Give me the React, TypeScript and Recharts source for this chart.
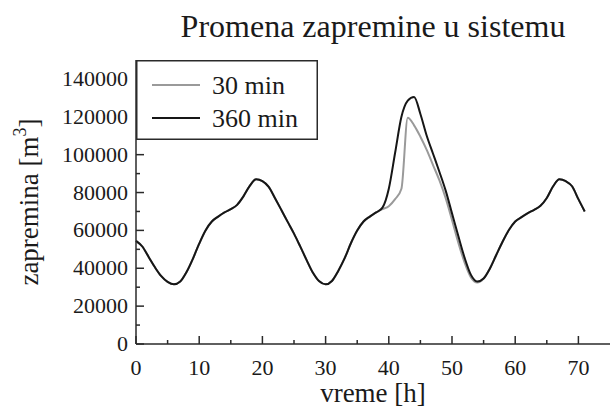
import { LineChart, Line, XAxis, YAxis, Legend } from 'recharts';

// vreme [h]
const HOURS = [
  0, 1, 2, 3, 4, 5, 6, 7, 8, 9, 10, 11, 12, 13, 14, 15, 16, 17, 18, 19, 20, 21, 22, 23,
  24, 25, 26, 27, 28, 29, 30, 31, 32, 33, 34, 35, 36, 37, 38, 39, 40, 41, 42, 43, 44, 45, 46, 47,
  48, 49, 50, 51, 52, 53, 54, 55, 56, 57, 58, 59, 60, 61, 62, 63, 64, 65, 66, 67, 68, 69, 70, 71,
];

// zapremina [m3], korak 30 min
const VOL_30 = [
  54500, 51500, 46000, 40500, 35800, 32800, 31500, 33000, 38000, 45000, 53000, 60000,
  64700, 67300, 69500, 71200, 73500, 78000, 83500, 87000, 86000, 83000, 77000, 70800,
  64500, 58300, 51400, 44300, 37600, 33100, 31500, 33300, 38600, 45200, 53200, 59900,
  64700, 67300, 69500, 71200, 72800, 76500, 82000, 119500, 115500, 109500, 102500, 94500,
  86500, 77000, 65500, 53500, 43000, 35200, 32500, 34600, 39900, 47000, 54000, 60200,
  64700, 67000, 69100, 70900, 73000, 77100, 83300, 87000, 86000, 83300, 76500, 70000,
];

// zapremina [m3], korak 360 min
const VOL_360 = [
  54500, 51500, 46000, 40500, 35800, 32800, 31500, 33000, 38000, 45000, 53000, 60000,
  64700, 67300, 69500, 71200, 73500, 78000, 83500, 87000, 86000, 83000, 77000, 70800,
  64500, 58300, 51400, 44300, 37600, 33100, 31500, 33300, 38600, 45200, 53200, 59900,
  64700, 67300, 69500, 72000, 82000, 101000, 120000, 128500, 130500, 121500, 110000, 100500,
  91000, 81000, 69000, 57000, 45500, 36500, 33000, 34600, 39900, 47000, 54000, 60200,
  64700, 67000, 69100, 70900, 73000, 77100, 83300, 87000, 86000, 83300, 76500, 70000,
];

const X_TICKS = [0, 5, 10, 15, 20, 25, 30, 35, 40, 45, 50, 55, 60, 65, 70];
const Y_TICKS = [0, 10000, 20000, 30000, 40000, 50000, 60000, 70000, 80000, 90000, 100000, 110000, 120000, 130000, 140000];

const SERIES = [
  { key: 'v30', name: '30 min', color: '#9a9a9a' },
  { key: 'v360', name: '360 min', color: '#161616' },
];

const data = HOURS.map((t, i) => ({ t, v30: VOL_30[i], v360: VOL_360[i] }));

const SERIF = 'Liberation Serif';
const INK = '#1a1a1a';
const AXIS = '#2a2a2a';

function BottomTick({ x, y, payload }: any) {
  const major = payload.value % 10 === 0;
  return (
    <g>
      <line x1={x} y1={y} x2={x} y2={y - (major ? 8 : 4)} stroke={AXIS} strokeWidth={1.5} />
      {major && (
        <text x={x} y={y + 31} textAnchor="middle" fontSize={22} fontFamily={SERIF} fill={INK}>
          {payload.value}
        </text>
      )}
    </g>
  );
}

function TopTick({ x, y, payload }: any) {
  const major = payload.value % 10 === 0;
  return <line x1={x} y1={y} x2={x} y2={y + (major ? 8 : 4)} stroke={AXIS} strokeWidth={1.5} />;
}

function LeftTick({ x, y, payload }: any) {
  const major = payload.value % 20000 === 0;
  return (
    <g>
      <line x1={x} y1={y} x2={x + (major ? 8 : 4)} y2={y} stroke={AXIS} strokeWidth={1.5} />
      {major && (
        <text x={x - 8} y={y + 7} textAnchor="end" fontSize={22} fontFamily={SERIF} fill={INK}>
          {payload.value}
        </text>
      )}
    </g>
  );
}

function RightTick({ x, y, payload }: any) {
  const major = payload.value % 20000 === 0;
  return <line x1={x} y1={y} x2={x - (major ? 8 : 4)} y2={y} stroke={AXIS} strokeWidth={1.5} />;
}

function YLabel() {
  return (
    <text
      x={38}
      y={202}
      transform="rotate(-90, 38, 202)"
      textAnchor="middle"
      fontSize={27}
      fontFamily={SERIF}
      fill={INK}
    >
      zapremina [m
      <tspan dy={-12} fontSize={18}>3</tspan>
      <tspan dy={12}>]</tspan>
    </text>
  );
}

function XLabel() {
  return (
    <text x={373} y={402} textAnchor="middle" fontSize={27} fontFamily={SERIF} fill={INK}>
      vreme [h]
    </text>
  );
}

function LegendBox() {
  return (
    <svg width={182} height={80} style={{ display: 'block' }}>
      <rect x={0.75} y={0.75} width={180.5} height={78.5} fill="#fff" stroke={AXIS} strokeWidth={1.5} />
      {SERIES.map((s, i) => (
        <g key={s.key}>
          <line x1={16} x2={64} y1={25 + i * 33} y2={25 + i * 33} stroke={s.color} strokeWidth={2} />
          <text x={76} y={34 + i * 33} fontSize={26} fontFamily={SERIF} fill={INK}>
            {s.name}
          </text>
        </g>
      ))}
    </svg>
  );
}

export default function App() {
  return (
    <div style={{ position: 'absolute', left: 0, top: 0, width: 612, height: 408, background: '#fff', fontFamily: SERIF }}>
      <div
        style={{
          position: 'absolute',
          left: 0,
          width: 746,
          top: 8,
          textAlign: 'center',
          fontSize: 32,
          color: INK,
          lineHeight: '36px',
        }}
      >
        Promena zapremine u sistemu
      </div>
      <LineChart
        width={612}
        height={408}
        data={data}
        margin={{ top: 60, right: 2, bottom: 0, left: 0 }}
        style={{ fontFamily: SERIF }}
      >
        <XAxis
          dataKey="t"
          type="number"
          domain={[0, 75]}
          ticks={X_TICKS}
          interval={0}
          height={64}
          tickSize={0}
          tickMargin={0}
          tick={<BottomTick />}
          stroke={AXIS}
          strokeWidth={1.5}
          label={<XLabel />}
        />
        <XAxis
          xAxisId="top"
          orientation="top"
          dataKey="t"
          type="number"
          domain={[0, 75]}
          ticks={X_TICKS}
          interval={0}
          height={0}
          tickSize={0}
          tickMargin={0}
          tick={<TopTick />}
          stroke={AXIS}
          strokeWidth={1.5}
        />
        <YAxis
          type="number"
          domain={[0, 150000]}
          ticks={Y_TICKS}
          interval={0}
          width={136}
          tickSize={0}
          tickMargin={0}
          tick={<LeftTick />}
          stroke={AXIS}
          strokeWidth={1.5}
          label={<YLabel />}
        />
        <YAxis
          yAxisId="right"
          orientation="right"
          type="number"
          domain={[0, 150000]}
          ticks={Y_TICKS}
          interval={0}
          width={0}
          tickSize={0}
          tickMargin={0}
          tick={<RightTick />}
          stroke={AXIS}
          strokeWidth={1.5}
        />
        <Legend
          layout="vertical"
          align="center"
          verticalAlign="middle"
          wrapperStyle={{ left: 136, top: 60, width: 182, height: 80 }}
          content={() => <LegendBox />}
        />
        {SERIES.map((s) => (
          <Line
            key={s.key}
            type="monotone"
            dataKey={s.key}
            name={s.name}
            stroke={s.color}
            strokeWidth={2}
            dot={false}
            isAnimationActive={false}
          />
        ))}
      </LineChart>
    </div>
  );
}
